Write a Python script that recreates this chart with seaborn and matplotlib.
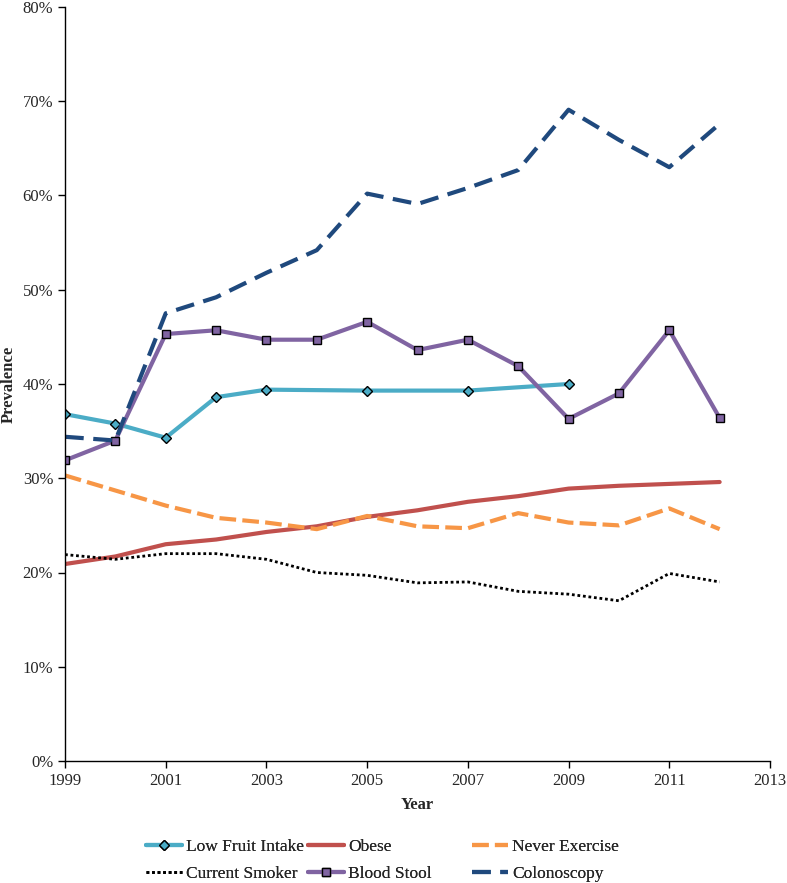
import pandas as pd
import seaborn as sns
from matplotlib import pyplot as plt
from matplotlib.ticker import PercentFormatter

years = list(range(1999, 2013))
fruit_years = [1999, 2000, 2001, 2002, 2003, 2005, 2007, 2009]
low_fruit = [36.8, 35.8, 34.3, 38.6, 39.4, 39.3, 39.3, 40.0]
obese = [20.9, 21.7, 23.0, 23.5, 24.3, 24.9, 25.9, 26.6, 27.5, 28.1, 28.9, 29.2, 29.4, 29.6]
never_exercise = [30.3, 28.7, 27.1, 25.8, 25.3, 24.6, 26.0, 24.9, 24.7, 26.3, 25.3, 25.0, 26.8, 24.6]
current_smoker = [21.9, 21.4, 22.0, 22.0, 21.4, 20.0, 19.7, 18.9, 19.0, 18.0, 17.7, 17.0, 19.9, 19.0]
blood_stool = [31.9, 34.0, 45.3, 45.7, 44.7, 44.7, 46.6, 43.6, 44.7, 41.9, 36.3, 39.0, 45.7, 36.4]
colonoscopy = [34.4, 34.0, 47.5, 49.2, 51.8, 54.2, 60.2, 59.1, 60.8, 62.7, 69.1, 65.9, 63.0, 67.6]

sns.set_style("ticks")
plt.rcParams['font.family'] = ['Liberation Serif', 'DejaVu Serif']

fig = plt.figure(figsize=(7.87, 8.83), dpi=100)
ax = fig.add_axes([65 / 787, 122 / 883, 705 / 787, 754 / 883])

series = [
    ("Low Fruit Intake", fruit_years, low_fruit, "#4BACC6", "-", "D"),
    ("Obese", years, obese, "#C0504D", "-", None),
    ("Never Exercise", years, never_exercise, "#F79646", (0, (4, 1.5)), None),
    ("Current Smoker", years, current_smoker, "black", (0, (1, 1)), None),
    ("Blood Stool", years, blood_stool, "#8064A2", "-", "s"),
    ("Colonoscopy", years, colonoscopy, "#1F497D", (0, (4.5, 2.3)), None),
]

lines = {}
for name, xs, ys, color, ls, marker in series:
    df = pd.DataFrame({"Year": xs, "Prevalence": ys})
    lw = 2.0 if name == "Current Smoker" else 3.0
    sns.lineplot(data=df, x="Year", y="Prevalence", ax=ax, color=color,
                 linewidth=lw, marker=marker, markersize=5.5 if marker else 0,
                 markeredgecolor="black", markeredgewidth=1.0, legend=False)
    l = ax.get_lines()[-1]
    l.set_linestyle(ls)
    lines[name] = l

ax.set_xlim(1999, 2013)
ax.set_ylim(0, 80)
ax.set_xticks(range(1999, 2014, 2))
ax.set_yticks(range(0, 81, 10))
ax.yaxis.set_major_formatter(PercentFormatter(decimals=0))
ax.tick_params(labelsize=12, color="black", width=1, length=5)
for s in ["left", "bottom"]:
    ax.spines[s].set_color("black")
    ax.spines[s].set_linewidth(1)
sns.despine(ax=ax)

ax.set_xlabel("Year", fontsize=12, fontweight="bold", labelpad=6)
ax.set_ylabel("Prevalence", fontsize=12, fontweight="bold", labelpad=4)

# Excel-style legend: three evenly spaced columns
columns = [["Low Fruit Intake", "Current Smoker"],
           ["Obese", "Blood Stool"],
           ["Never Exercise", "Colonoscopy"]]
col_x = [146, 308, 472]
for names, px in zip(columns, col_x):
    leg = fig.legend([lines[n] for n in names], names, frameon=False,
                     loc="upper left", bbox_to_anchor=(px / 787, 1 - 839 / 883),
                     fontsize=12.5, handlelength=2.1, handletextpad=0.2,
                     labelspacing=0.6, borderpad=0, borderaxespad=0)
    fig.add_artist(leg)

plt.savefig("out.png", dpi=100)
